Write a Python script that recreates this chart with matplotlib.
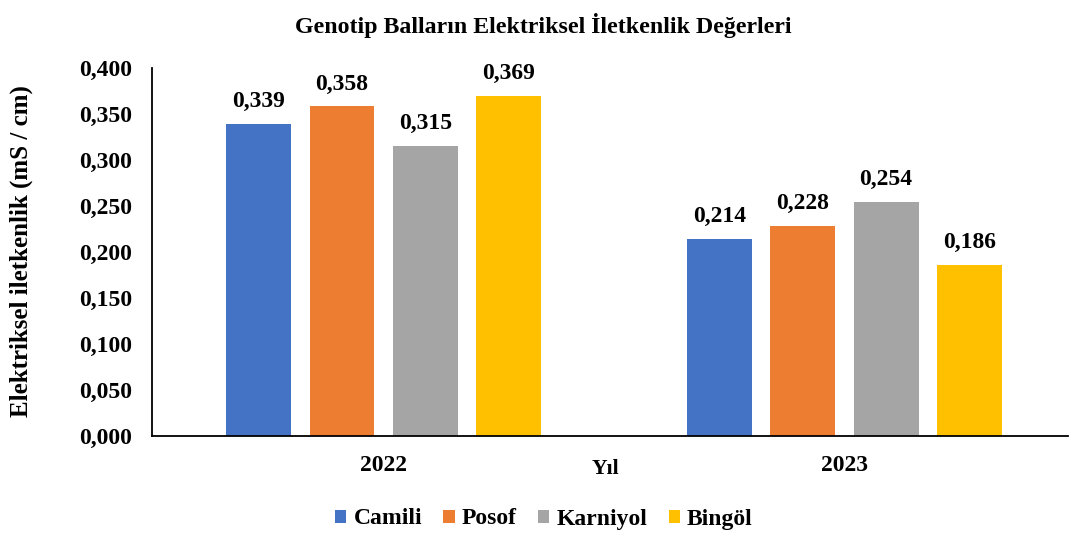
import matplotlib.pyplot as plt
import numpy as np

years = ["2022", "2023"]
genotypes = ["Camili", "Posof", "Karniyol", "Bingöl"]
values = {
    "Camili": [0.339, 0.214],
    "Posof": [0.358, 0.228],
    "Karniyol": [0.315, 0.254],
    "Bingöl": [0.369, 0.186],
}
colors = ["#4472C4", "#ED7D31", "#A5A5A5", "#FFC000"]
yticks = [0.0, 0.05, 0.1, 0.15, 0.2, 0.25, 0.3, 0.35, 0.4]

plt.rcParams['font.family'] = ['Liberation Serif', 'DejaVu Serif']
plt.rcParams['font.weight'] = 'bold'

fig = plt.figure(figsize=(10.7, 5.34), dpi=100)
ax = fig.add_axes([0.142, 0.1835, 0.856, 0.6895])

x = np.arange(len(years))
width = 0.141
step = 0.181
for i, g in enumerate(genotypes):
    pos = x + (i - 1.5) * step
    bars = ax.bar(pos, values[g], width, color=colors[i], label=g)
    for b, v in zip(bars, values[g]):
        ax.text(b.get_x() + b.get_width() / 2, v + 0.013, f"{v:.3f}".replace(".", ","),
                ha='center', va='bottom', fontsize=17, fontweight='bold')

ax.set_xlim(-0.503, 1.485)
ax.set_ylim(0, 0.4)
ax.set_yticks(yticks)
ax.set_yticklabels([f"{t:.3f}".replace(".", ",") for t in yticks], fontsize=17, fontweight='bold')
ax.set_xticks(x)
ax.set_xticklabels(years, fontsize=17, fontweight='bold')
ax.tick_params(axis='y', length=0, pad=14)
ax.tick_params(axis='x', length=0, pad=14)
for s in ['top', 'right']:
    ax.spines[s].set_visible(False)
for s in ['left', 'bottom']:
    ax.spines[s].set_linewidth(1.3)
    ax.spines[s].set_color('black')

fig.text(21 / 1070, 1 - 251 / 534, "Elektriksel iletkenlik (mS / cm)", rotation=90,
         ha='center', va='center', fontsize=18, fontweight='bold')
fig.text(605 / 1070, 1 - 469 / 534, "Yıl", ha='center', va='center', fontsize=15.5, fontweight='bold')
fig.text(543 / 1070, 1 - 25 / 534, "Genotip Balların Elektriksel İletkenlik Değerleri",
         ha='center', va='center', fontsize=17.2, fontweight='bold')

fig.legend(loc='center', bbox_to_anchor=(544 / 1070, 1 - 519 / 534), ncol=4, frameon=False,
           fontsize=17, handlelength=0.48, handleheight=0.48, handletextpad=0.3, columnspacing=0.9)

fig.savefig("out.png", dpi=100)
